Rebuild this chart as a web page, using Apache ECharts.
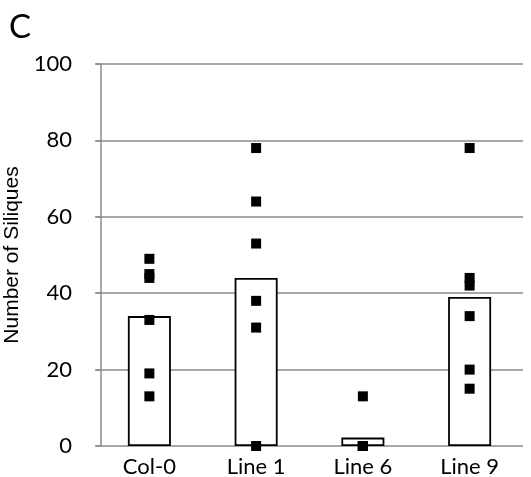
<!DOCTYPE html>
<html>
<head>
<meta charset="utf-8">
<script src="https://cdn.jsdelivr.net/npm/echarts@6/dist/echarts.min.js"></script>
<style>html,body{margin:0;padding:0;background:#fff;}#c{width:531px;height:477px;}</style>
</head>
<body>
<div id="c"></div>
<script>
var categories = ['Col-0', 'Line 1', 'Line 6', 'Line 9'];
var meanValues = [34, 44, 2.2, 39];
var col0Points = [49, 45, 44, 33, 19, 13];
var line1Points = [78, 64, 53, 38, 31, 0];
var line6Points = [13, 0, 0, 0, 0, 0];
var line9Points = [78, 44, 42, 34, 20, 15];
var yTicks = [0, 20, 40, 60, 80, 100];

var pointGroups = [col0Points, line1Points, line6Points, line9Points];
var scatterData = [];
pointGroups.forEach(function (g, i) {
  g.forEach(function (v) { scatterData.push([categories[i], v]); });
});

var chart = echarts.init(document.getElementById('c'));
chart.setOption({
  animation: false,
  title: {
    text: 'C', left: 4, top: 6,
    textStyle: { fontFamily: 'Lato', fontSize: 33, fontWeight: 'normal', color: '#000' }
  },
  grid: { left: 96, right: 8, top: 64, bottom: 31, containLabel: false, outerBoundsMode: 'none' },
  xAxis: {
    type: 'category',
    data: categories,
    axisLine: { show: false },
    axisTick: { show: false },
    axisLabel: { margin: 10, fontFamily: 'Lato', fontSize: 22, color: '#000' }
  },
  yAxis: {
    type: 'value',
    min: 0, max: 100, interval: 20,
    offset: -5,
    name: 'Number of Siliques',
    nameLocation: 'middle',
    nameGap: 66,
    nameTextStyle: { fontFamily: 'Liberation Sans', fontSize: 21, color: '#000' },
    axisLine: { show: true, lineStyle: { color: '#8a8a8a', width: 1.5 } },
    axisTick: { show: true, inside: false, length: 6, lineStyle: { color: '#8a8a8a', width: 1.5 } },
    axisLabel: {
      margin: 29, fontFamily: 'Lato', fontSize: 22, color: '#000',
      formatter: function (v) { return yTicks.indexOf(v) >= 0 ? String(v) : ''; }
    },
    splitLine: { show: true, lineStyle: { color: '#8a8a8a', width: 1.5 } }
  },
  series: [
    {
      type: 'bar',
      data: meanValues,
      barWidth: 43,
      itemStyle: { color: '#fff', borderColor: '#000', borderWidth: 1.8 },
      z: 2
    },
    {
      type: 'scatter',
      data: scatterData,
      symbol: 'rect',
      symbolSize: 10,
      itemStyle: { color: '#000', opacity: 1 },
      z: 3
    }
  ]
});
</script>
</body>
</html>
